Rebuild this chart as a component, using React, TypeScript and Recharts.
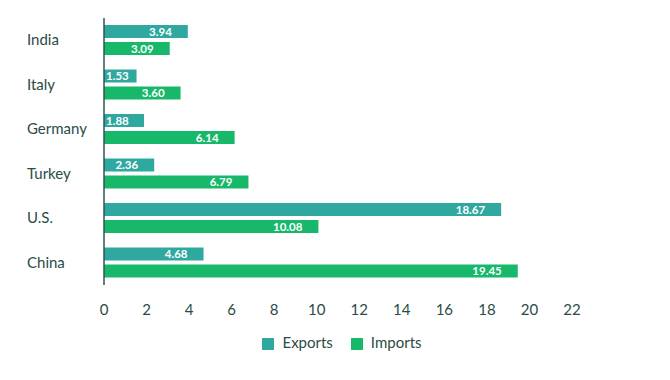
import React from 'react';
import { BarChart, Bar, XAxis, YAxis, Legend, LabelList } from 'recharts';

const countries = ['India', 'Italy', 'Germany', 'Turkey', 'U.S.', 'China'];
const exportsVals = [3.94, 1.53, 1.88, 2.36, 18.67, 4.68];
const importsVals = [3.09, 3.6, 6.14, 6.79, 10.08, 19.45];
const xTicks = [0, 2, 4, 6, 8, 10, 12, 14, 16, 18, 20, 22];

const data = countries.map((name, i) => ({
  name,
  exports: exportsVals[i],
  imports: importsVals[i],
}));

const TEXT = '#2b4b48';

const CountryTick = (props: any) => {
  const { y, payload } = props;
  return (
    <text x={27} y={y} dy={5} textAnchor="start" fill={TEXT} fontSize={15}>
      {payload.value}
    </text>
  );
};

// value label inside the bar end; short bars get it at the start
const BarValue = (props: any) => {
  const { x, y, width, height, value } = props;
  const txt = Number(value).toFixed(2);
  const textW = txt.length * 6.2;
  const endX = x + width - 16;
  const atStart = endX - textW < x + 2;
  return (
    <text
      x={atStart ? x + 2 : endX}
      y={y + height / 2}
      dy={4}
      textAnchor={atStart ? 'start' : 'end'}
      fill="#fff"
      fontSize={11.5}
      fontWeight="bold"
    >
      {txt}
    </text>
  );
};

export default function App() {
  return (
    <div
      style={{
        margin: -8,
        width: 670,
        height: 380,
        position: 'relative',
        background: '#fff',
        fontFamily: 'Lato, sans-serif',
        boxSizing: 'border-box',
        borderLeft: '2px solid #dcdcdc',
        borderRight: '2px solid #dcdcdc',
      }}
    >
      <div style={{ position: 'absolute', left: -2, top: 0 }}>
        <BarChart
          width={670}
          height={380}
          data={data}
          layout="vertical"
          margin={{ top: 18, right: 98, bottom: 36, left: 0 }}
          barSize={13}
          barGap={4}
        >
          <XAxis
            type="number"
            domain={[0, 22]}
            ticks={xTicks}
            axisLine={false}
            tickLine={false}
            tickMargin={13}
            height={40}
            tick={{ fill: TEXT, fontSize: 15 }}
          />
          <YAxis
            type="category"
            dataKey="name"
            width={104}
            axisLine={{ stroke: '#2f5450', strokeWidth: 1.5 }}
            tickLine={false}
            tick={<CountryTick />}
          />
          <Legend
            iconType="square"
            iconSize={12}
            wrapperStyle={{ top: 332, left: 16, width: 670 }}
            formatter={(v: string) => <span style={{ color: TEXT, fontSize: 15, marginLeft: 4, marginRight: 8 }}>{v}</span>}
          />
          <Bar dataKey="exports" name="Exports" fill="#2fa9a0" isAnimationActive={false}>
            <LabelList dataKey="exports" content={<BarValue />} />
          </Bar>
          <Bar dataKey="imports" name="Imports" fill="#18b86a" isAnimationActive={false}>
            <LabelList dataKey="imports" content={<BarValue />} />
          </Bar>
        </BarChart>
      </div>
    </div>
  );
}
